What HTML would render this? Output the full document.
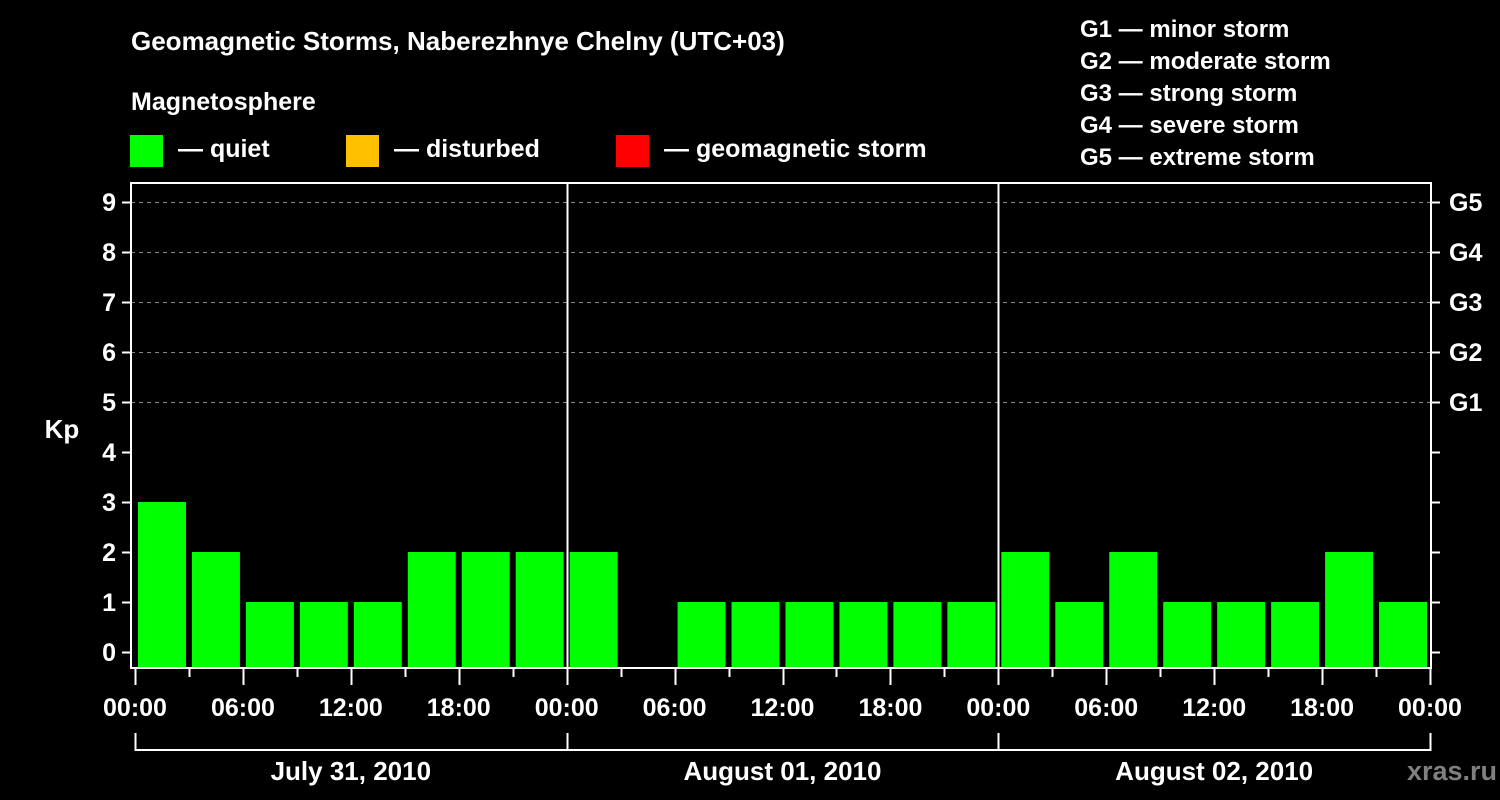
<!DOCTYPE html>
<html><head><meta charset="utf-8"><style>
html,body{margin:0;padding:0;background:#000;}
svg{display:block;font-family:"Liberation Sans",Arial,sans-serif;font-weight:bold;}
</style></head><body>
<svg id="chart" width="1500" height="800" viewBox="0 0 1500 800">
<rect width="1500" height="800" fill="#000"/>
<text x="131" y="50" fill="#fff" font-size="26">Geomagnetic Storms, Naberezhnye Chelny (UTC+03)</text>
<text x="131" y="110" fill="#fff" font-size="25">Magnetosphere</text>
<g><rect x="130" y="135" width="33" height="32" fill="#00ff00"/><text x="178" y="157" fill="#fff" font-size="25">— quiet</text></g>
<g><rect x="346" y="135" width="33" height="32" fill="#ffc000"/><text x="394" y="157" fill="#fff" font-size="25">— disturbed</text></g>
<g><rect x="616" y="135" width="33" height="32" fill="#ff0000"/><text x="664" y="157" fill="#fff" font-size="25">— geomagnetic storm</text></g>
<g fill="#fff" font-size="24">
<text x="1080" y="37">G1 — minor storm</text>
<text x="1080" y="69">G2 — moderate storm</text>
<text x="1080" y="101">G3 — strong storm</text>
<text x="1080" y="133">G4 — severe storm</text>
<text x="1080" y="165">G5 — extreme storm</text>
</g>
<text x="62" y="438" fill="#fff" font-size="26" text-anchor="middle">Kp</text>
<text x="1497" y="780" fill="#808080" font-size="27" text-anchor="end">xras.ru</text>
<g id="grid"></g><g id="bars"></g><g id="axes"></g>
</svg>
<script>
const days = ["July 31, 2010", "August 01, 2010", "August 02, 2010"];
const kpValues = [3,2,1,1,1,2,2,2, 2,null,1,1,1,1,1,1, 2,1,2,1,1,1,2,1];
const yTicks = [0,1,2,3,4,5,6,7,8,9];
const gLabels = ["G1","G2","G3","G4","G5"];
const timeLabels = ["00:00","06:00","12:00","18:00"];

const X0=131, X1=1431, YTOP=183, YBOT=668;
const totalH = days.length*24;
const xs = h => 135 + (1430-135)*h/totalH;
const ys = v => 652 - 50*v;
const NS="http://www.w3.org/2000/svg";
function mk(tag, attrs, parent){const e=document.createElementNS(NS,tag);for(const k in attrs)e.setAttribute(k,attrs[k]);parent.appendChild(e);return e;}
const grid=document.getElementById('grid'), bars=document.getElementById('bars'), axes=document.getElementById('axes');

yTicks.forEach(v=>{
  if(v>=5){const l=mk('line',{x1:X0,x2:X1,y1:ys(v)+0.5,y2:ys(v)+0.5,stroke:'#888','stroke-dasharray':'4,4'},grid);
  
  }
  const t=mk('line',{x1:122,x2:X0,y1:ys(v)+0.5,y2:ys(v)+0.5,stroke:'#fff','stroke-width':2},axes);
  
  
  const t2=mk('line',{x1:X1,x2:1440,y1:ys(v)+0.5,y2:ys(v)+0.5,stroke:'#fff','stroke-width':2},axes);
  
  
  const lb=mk('text',{x:116,y:ys(v)+9,fill:'#fff','font-size':25,'text-anchor':'end'},axes);
  lb.textContent=v;
  
  
});
gLabels.forEach((g,i)=>{
  const lb=mk('text',{x:1449,y:ys(5+i)+9,fill:'#fff','font-size':25},axes);
  lb.textContent=g;
  
  
});
kpValues.forEach((v,i)=>{
  if(v===null)return;
  const x=xs(i*3)+3, w=xs(i*3+3)-xs(i*3)-6;
  const b=mk('rect',{x:x,y:ys(v),width:w,height:667-ys(v),fill:'#00ff00'},bars);
  
  
});
// frame
const fr=mk('rect',{x:X0,y:YTOP,width:X1-X0,height:YBOT-YTOP,fill:'none',stroke:'#fff','stroke-width':2},axes);


for(let h=0;h<=totalH;h+=3){
  const x=Math.round(xs(h))+0.5, major=h%6===0, dayB=h%24===0;
  const t=mk('line',{x1:x,x2:x,y1:YBOT,y2:dayB?685:(major?685:677),stroke:'#fff','stroke-width':2},axes);
  
  
  if(dayB&&h>0&&h<totalH){const d=mk('line',{x1:x,x2:x,y1:YTOP,y2:YBOT,stroke:'#fff','stroke-width':2},axes);
  
  }
  if(major){const lb=mk('text',{x:xs(h),y:716,fill:'#fff','font-size':25,'text-anchor':'middle'},axes);
  lb.textContent=timeLabels[(h%24)/6];
  
  }
}
const br=mk('line',{x1:135,x2:1431,y1:750,y2:750,stroke:'#fff','stroke-width':2},axes);


for(let d=0;d<=days.length;d++){
  const x=Math.round(xs(d*24))+0.5;
  const t=mk('line',{x1:x,x2:x,y1:733,y2:751,stroke:'#fff','stroke-width':2},axes);
  
  
}
days.forEach((d,i)=>{
  const lb=mk('text',{x:xs(i*24+12),y:780,fill:'#fff','font-size':26,'text-anchor':'middle'},axes);
  lb.textContent=d;
  
  
});
</script>
</body></html>
